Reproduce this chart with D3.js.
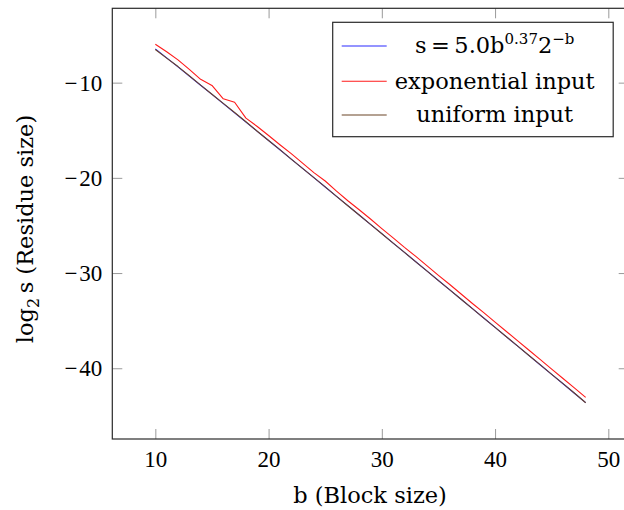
<!DOCTYPE html>
<html>
<head>
<meta charset="utf-8">
<script src="https://cdn.jsdelivr.net/npm/d3@7"></script>
<style>
  body { margin: 0; background: #fff; }
  svg { display: block; }
  text { font-family: "DejaVu Serif", "Liberation Serif", serif; fill: #000; }
  .tick text { font-family: "Liberation Serif", "DejaVu Serif", serif; }
</style>
</head>
<body>
<svg></svg>
<script>
const blockSizes = [10, 11, 12, 13, 14, 15, 16, 17, 18, 19, 20, 21, 22, 23, 24, 25, 26, 27, 28, 29,
    30, 31, 32, 33, 34, 35, 36, 37, 38, 39, 40, 41, 42, 43, 44, 45, 46, 47, 48];

// fitted curve s = 5.0 b^0.37 2^-b, as log2 s
const fitValues = [-6.45, -7.40, -8.35, -9.31, -10.27, -11.23, -12.20, -13.17, -14.14, -15.11,
    -16.08, -17.05, -18.03, -19.00, -19.98, -20.96, -21.94, -22.92, -23.90, -24.88,
    -25.86, -26.85, -27.83, -28.81, -29.80, -30.78, -31.77, -32.75, -33.74, -34.72,
    -35.71, -36.70, -37.68, -38.67, -39.66, -40.65, -41.63, -42.62, -43.61];

const exponentialValues = [-5.97, -6.75, -7.61, -8.60, -9.65, -10.29, -11.70, -12.06, -13.73, -14.60,
    -15.55, -16.52, -17.45, -18.45, -19.45, -20.33, -21.40, -22.40, -23.35, -24.32,
    -25.33, -26.30, -27.30, -28.25, -29.24, -30.24, -31.20, -32.20, -33.20, -34.16,
    -35.15, -36.14, -37.12, -38.11, -39.10, -40.09, -41.07, -42.06, -43.05];

const uniformValues = [-6.52, -7.42, -8.31, -9.27, -10.26, -11.22, -12.18, -13.13, -14.11, -15.10,
    -16.08, -17.04, -18.03, -19.01, -19.98, -20.95, -21.94, -22.93, -23.90, -24.88,
    -25.87, -26.85, -27.83, -28.82, -29.80, -30.79, -31.77, -32.75, -33.74, -34.73,
    -35.71, -36.69, -37.68, -38.66, -39.65, -40.64, -41.62, -42.60, -43.62];

const xTicks = [10, 20, 30, 40, 50];
const yTicks = [-10, -20, -30, -40];

const series = [
    { name: "fit", values: fitValues, color: "#2b2bff" },
    { name: "exponential input", values: exponentialValues, color: "#ff1a1a" },
    { name: "uniform input", values: uniformValues, color: "#6b4426" }
];

const svgWidth = 624, svgHeight = 510;
const margin = { top: 8.3, left: 112.3 };
const width = 516.4, height = 430.7;

const svg = d3.select("svg").attr("width", svgWidth).attr("height", svgHeight);
const g = svg.append("g")
    .attr("transform", "translate(" + margin.left + "," + margin.top + ")");

const x = d3.scaleLinear().domain([6.2, 51.8]).range([0, width]);
const y = d3.scaleLinear().domain([-47.43, -2.19]).range([height, 0]);

// tick marks on all four sides, pointing inward
function styleAxis(sel) {
    sel.select(".domain").remove();
    sel.selectAll(".tick line").attr("stroke", "#9a9a9a").attr("stroke-width", 1);
    sel.selectAll(".tick text").style("font-size", "23px");
}

g.append("g")
    .attr("transform", "translate(0," + height + ")")
    .call(d3.axisBottom(x).tickValues(xTicks).tickSize(-10).tickPadding(11.5))
    .call(styleAxis);

g.append("g")
    .call(d3.axisTop(x).tickValues(xTicks).tickSize(-10).tickFormat(""))
    .call(styleAxis);

g.append("g")
    .call(d3.axisLeft(y).tickValues(yTicks).tickSize(-10).tickPadding(10)
        .tickFormat(d => "\u2212\u200a" + Math.abs(d)))
    .call(styleAxis);

g.append("g")
    .attr("transform", "translate(" + width + ",0)")
    .call(d3.axisRight(y).tickValues(yTicks).tickSize(-10).tickFormat(""))
    .call(styleAxis);

const line = d3.line()
    .x((d, i) => x(blockSizes[i]))
    .y(d => y(d));

series.forEach(s => {
    g.append("path")
        .datum(s.values)
        .attr("fill", "none")
        .attr("stroke", s.color)
        .attr("stroke-width", 1.1)
        .attr("stroke-linejoin", "round")
        .attr("d", line);
});

g.append("rect")
    .attr("width", width)
    .attr("height", height)
    .attr("fill", "none")
    .attr("stroke", "#2a2a2a")
    .attr("stroke-width", 1.2);

// axis labels
svg.append("text")
    .attr("x", 370)
    .attr("y", 503)
    .attr("text-anchor", "middle")
    .style("font-size", "22.5px")
    .text("b (Block size)");

const yLabel = svg.append("text")
    .attr("transform", "translate(33,229) rotate(-90)")
    .attr("text-anchor", "middle")
    .style("font-size", "22.5px");
yLabel.append("tspan").text("log");
yLabel.append("tspan").attr("dy", 6).style("font-size", "16px").text("2");
yLabel.append("tspan").attr("dy", -6).text("\u2009s (Residue size)");

// legend
const legend = svg.append("g").attr("transform", "translate(332.7,22.3)");
legend.append("rect")
    .attr("width", 280.5)
    .attr("height", 114.4)
    .attr("fill", "#fff")
    .attr("stroke", "#2a2a2a")
    .attr("stroke-width", 1.2);

const rowY = [23.7, 59, 92.7];
series.forEach((s, i) => {
    legend.append("line")
        .attr("x1", 9).attr("x2", 54)
        .attr("y1", rowY[i]).attr("y2", rowY[i])
        .attr("stroke", s.color)
        .attr("stroke-width", 1.1);
    const t = legend.append("text")
        .attr("x", 162)
        .attr("y", rowY[i] + 7.5)
        .attr("text-anchor", "middle")
        .style("font-size", "22.5px");
    if (i === 0) {
        t.append("tspan").text("s\u2009=\u20095.0b");
        t.append("tspan").attr("dy", -9).style("font-size", "15px").text("0.37");
        t.append("tspan").attr("dy", 9).text("2");
        t.append("tspan").attr("dy", -9).style("font-size", "15px").text("\u2212b");
    } else {
        t.text(s.name);
    }
});
</script>
</body>
</html>
